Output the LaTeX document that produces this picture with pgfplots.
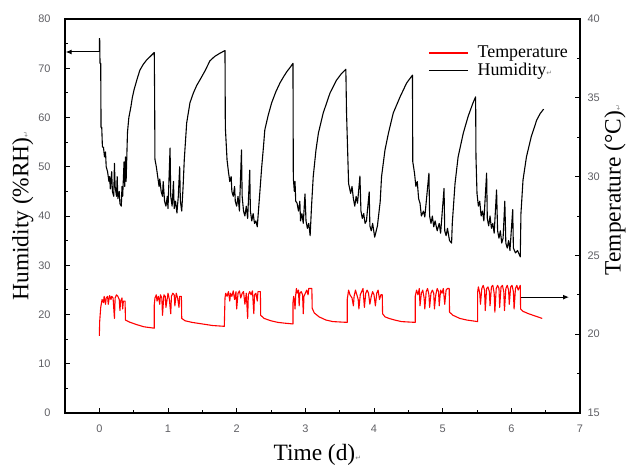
\documentclass[border=0pt]{standalone}
\usepackage{pgfplots}
\pgfplotsset{compat=1.18}
\usepackage{fontspec}
\usetikzlibrary{arrows.meta}
\setmainfont{Liberation Serif}
\newfontfamily\arialfont{Liberation Sans}
\newfontfamily\djv{DejaVu Sans}
\definecolor{tickgray}{RGB}{95,95,100}
\definecolor{tempred}{RGB}{255,0,0}
\newcommand\ret{{\djv\fontsize{7}{7}\selectfont\textcolor{gray}{↵}}}

\pgfplotsset{
  base/.style={
    width=515bp, height=394bp, scale only axis,
    xmin=-0.5, xmax=7,
    tick align=inside,
    major tick length=5bp, minor tick length=3bp,
    axis line style={line width=1.1bp},
    every tick/.style={black, line width=0.9bp},
    tick label style={font=\arialfont\fontsize{11}{11}\selectfont, text=tickgray},
    /pgf/number format/assume math mode=true,
    label style={font=\fontsize{23.5}{23.5}\selectfont},
  }
}

\begin{document}
\begin{tikzpicture}
\useasboundingbox (-65bp,-54bp) rectangle (567bp,413bp);

% temperature, right axis (drawn first)
\begin{axis}[base,
  ymin=15, ymax=40,
  axis x line=none,
  axis y line*=right,
  ytick={15,20,...,40}, minor y tick num=1,
  yticklabel style={xshift=4bp},
  ylabel={Temperature (°C)\ret},
  y label style={at={(axis description cs:1.068,0.566)}, anchor=center, rotate=0},
]
\addplot[color=tempred, line width=1.1bp, line join=round] table {
x y
0 19.9
0.005 20.8
0.02 21.7
0.04 22.2
0.06 22.0
0.07 22.4
0.09 21.9
0.10 22.3
0.12 22.4
0.13 21.9
0.15 22.45
0.17 22.2
0.18 22.4
0.20 22.3
0.22 21.0
0.23 22.3
0.25 22.5
0.27 22.4
0.29 22.2
0.30 21.5
0.31 22.1
0.33 22.3
0.34 21.6
0.35 22.1
0.375 22.1
0.38 20.9
0.45 20.75
0.55 20.6
0.65 20.47
0.80 20.38
0.80 21.85
0.81 22.3
0.83 22.5
0.84 22.1
0.86 22.4
0.88 21.9
0.89 22.5
0.91 22.3
0.92 21.2
0.94 22.5
0.96 22.4
0.97 21.7
0.99 22.3
1.00 22.6
1.02 22.2
1.04 21.3
1.05 22.4
1.07 22.6
1.09 22.5
1.10 21.8
1.12 22.6
1.14 22.3
1.16 21.7
1.17 22.4
1.195 22.4
1.20 21.0
1.25 20.85
1.35 20.75
1.50 20.65
1.65 20.55
1.82 20.5
1.83 22.3
1.84 22.6
1.86 22.4
1.88 22.7
1.90 22.1
1.91 22.6
1.93 22.4
1.95 22.75
1.97 22.2
1.99 22.7
2.00 21.6
2.02 22.6
2.04 22.75
2.06 22.3
2.08 22.6
2.10 22.7
2.12 21.9
2.14 22.6
2.16 21.0
2.17 22.5
2.19 22.7
2.21 22.5
2.23 22.75
2.25 21.3
2.26 22.5
2.28 22.6
2.30 22.1
2.31 22.7
2.345 22.7
2.35 21.2
2.40 21.0
2.50 20.85
2.60 20.75
2.70 20.7
2.82 20.65
2.82 22.0
2.83 22.4
2.84 22.2
2.85 21.6
2.86 22.5
2.87 22.9
2.88 22.6
2.90 22.8
2.91 21.8
2.92 22.6
2.94 22.7
2.96 22.5
2.97 21.3
2.98 22.4
3.00 22.6
3.02 22.8
3.04 22.5
3.05 22.9
3.095 22.9
3.10 21.65
3.13 21.35
3.20 21.1
3.30 20.9
3.40 20.8
3.61 20.75
3.61 22.2
3.63 22.8
3.65 22.5
3.68 22.3
3.70 21.8
3.71 22.4
3.73 22.8
3.75 22.5
3.77 22.2
3.78 21.6
3.80 22.5
3.82 22.7
3.84 22.9
3.85 22.3
3.86 21.7
3.88 22.6
3.90 22.8
3.92 22.6
3.94 21.9
3.96 22.4
3.98 22.7
4.00 22.5
4.02 21.8
4.04 22.6
4.06 22.8
4.08 22.2
4.10 22.5
4.12 22.5
4.125 21.3
4.16 21.1
4.22 21.0
4.30 20.9
4.40 20.8
4.60 20.75
4.60 22.4
4.62 22.8
4.64 22.5
4.66 22.9
4.67 21.8
4.69 22.6
4.71 22.8
4.73 22.3
4.74 21.6
4.76 22.7
4.78 22.9
4.80 22.5
4.81 21.7
4.83 22.6
4.85 22.8
4.87 22.6
4.88 21.6
4.90 22.5
4.92 22.9
4.94 22.7
4.95 21.8
4.97 22.8
4.99 22.6
5.01 22.9
5.03 21.9
5.05 22.8
5.07 22.9
5.095 22.9
5.10 21.4
5.15 21.2
5.25 21.0
5.35 20.9
5.51 20.8
5.51 22.7
5.52 23.0
5.54 22.6
5.55 21.9
5.57 22.9
5.59 23.1
5.61 22.8
5.62 21.5
5.64 22.9
5.66 23.0
5.68 22.7
5.69 21.8
5.71 23.0
5.73 23.1
5.75 22.6
5.76 21.4
5.78 22.9
5.80 23.1
5.82 22.9
5.83 21.7
5.85 23.0
5.87 23.1
5.89 22.7
5.90 21.5
5.92 22.9
5.94 23.1
5.96 22.8
5.97 21.9
5.99 23.0
6.01 23.1
6.03 22.7
6.04 21.6
6.06 22.9
6.08 23.1
6.10 22.8
6.13 23.1
6.135 21.6
6.17 21.45
6.25 21.3
6.35 21.15
6.45 21.0
};
% arrow to the temperature axis
\addplot[black, line width=1bp, -{Latex[length=6bp,width=5bp]}] coordinates {(6.14,22.35) (6.84,22.35)};
\end{axis}

% humidity, left axis
\begin{axis}[base,
  ymin=0, ymax=80,
  xtick={0,1,...,7}, minor x tick num=1,
  ytick={0,10,...,80}, minor y tick num=1,
  xtick pos=lower, ytick pos=left,
  xticklabel style={yshift=-8bp},
  yticklabel style={xshift=-11bp},
  xlabel={Time (d)\ret},
  ylabel={Humidity (\%RH)\ret},
  x label style={at={(axis description cs:0.49,-0.107)}, anchor=center},
  y label style={at={(axis description cs:-0.082,0.5)}, anchor=center},
  legend style={draw=none, fill=none, at={(axis description cs:0.705,0.936)},
    anchor=north west, inner sep=0pt, outer sep=0pt,
    font=\fontsize{18}{18}\selectfont,
    column sep=7bp, row sep=0bp},
  legend cell align=left,
  legend image code/.code={\draw[#1] (0bp,0bp) -- (39bp,0bp);},
]
\addlegendimage{draw=tempred, line width=1.5bp}
\addlegendentry{Temperature}
\addlegendimage{draw=black, line width=1.4bp}
\addlegendentry{Humidity\ret}
\addplot[black, line width=1.1bp, line join=round, forget plot] table {
x y
0 73.3
0 76
0.005 76
0.01 71
0.02 71
0.025 58
0.035 58
0.045 54
0.06 54
0.075 52
0.09 53
0.10 50
0.12 49
0.14 47
0.15 48
0.16 45.5
0.18 49
0.19 45
0.21 44
0.22 50.7
0.23 46
0.25 44
0.26 48
0.27 43.5
0.29 45
0.30 42.5
0.32 42
0.33 46
0.34 44
0.36 51
0.37 46
0.38 52
0.39 47
0.40 52
0.41 57
0.43 60
0.46 62.2
0.48 64
0.505 65.6
0.55 67.8
0.59 69.6
0.64 70.8
0.69 71.7
0.75 72.5
0.80 73.2
0.805 65
0.81 51.5
0.83 50
0.85 48
0.87 46
0.88 47.5
0.90 45
0.92 44
0.93 47
0.95 43
0.97 42
0.99 44
1.00 41.5
1.03 53.8
1.04 44
1.06 42
1.08 47
1.09 41.5
1.11 43
1.13 40.6
1.15 44
1.17 50
1.18 43
1.20 41
1.22 46
1.237 51.4
1.272 58.9
1.32 63
1.37 65
1.418 66.5
1.48 68
1.54 69.5
1.61 71.5
1.68 72.4
1.75 73
1.83 73.6
1.835 58
1.86 51.4
1.88 49
1.90 47
1.92 48
1.93 45
1.95 44
1.97 46
1.98 43
2.00 42
2.02 44
2.04 41
2.07 53.4
2.08 44
2.10 41
2.12 40
2.14 42
2.16 39.5
2.19 49.3
2.20 41
2.22 39
2.24 40.5
2.26 38.5
2.28 39
2.30 37.8
2.34 45.3
2.365 50
2.39 54
2.41 57.5
2.46 60.5
2.51 63
2.57 65.2
2.63 67
2.68 68.2
2.73 69.3
2.78 70.2
2.82 71
2.825 47.7
2.84 45
2.85 47
2.86 43
2.88 42.6
2.90 41
2.92 43
2.93 39
2.95 40.5
2.97 38.5
2.995 44.5
3.01 39
3.03 37.5
3.05 38.5
3.07 36
3.09 41.9
3.115 48
3.155 53.4
3.19 56.8
3.26 60.9
3.36 65
3.455 67.6
3.52 68.8
3.59 69.8
3.60 61
3.63 46.6
3.66 44.6
3.68 46
3.70 43.5
3.72 42
3.74 44
3.76 42.6
3.795 48.1
3.81 41
3.83 39.5
3.85 40.5
3.87 38.5
3.89 39
3.93 44.9
3.94 38
3.96 37
3.98 38.5
4.01 35.7
4.05 38
4.09 42.9
4.11 48
4.16 53.4
4.21 56.8
4.28 60.9
4.38 64.2
4.475 67
4.56 68.6
4.565 51
4.59 48.7
4.61 46
4.63 47
4.65 43.5
4.67 42.6
4.69 40
4.72 41
4.74 39.8
4.80 48.7
4.81 40
4.83 38.5
4.85 40
4.87 37.8
4.89 39
4.92 37
4.95 38.5
4.97 36.5
5.02 45.6
5.03 37
5.05 36
5.07 37.5
5.10 35
5.13 34.5
5.14 38.5
5.18 46.6
5.225 52
5.30 56.8
5.37 60.2
5.44 62.9
5.48 64.2
5.485 52
5.50 44.6
5.52 42
5.54 43
5.56 40
5.58 41
5.60 39
5.64 48.7
5.65 39.5
5.67 38
5.69 40
5.71 37.5
5.73 38.5
5.75 36.5
5.785 45.3
5.80 37
5.82 35.5
5.84 37
5.86 34.5
5.88 35.5
5.905 43
5.92 34.5
5.94 33.5
5.96 35
5.98 33
6.02 41.3
6.03 33.5
6.06 32.5
6.09 33
6.13 31.7
6.14 40.5
6.17 47.3
6.22 52
6.29 56.1
6.37 59.5
6.42 60.8
6.47 61.7
};
% arrow to the humidity axis
\addplot[black, line width=1bp, -{Latex[length=6bp,width=5bp]}, forget plot] coordinates {(0,73.3) (-0.49,73.3)};
\end{axis}
\end{tikzpicture}
\end{document}
